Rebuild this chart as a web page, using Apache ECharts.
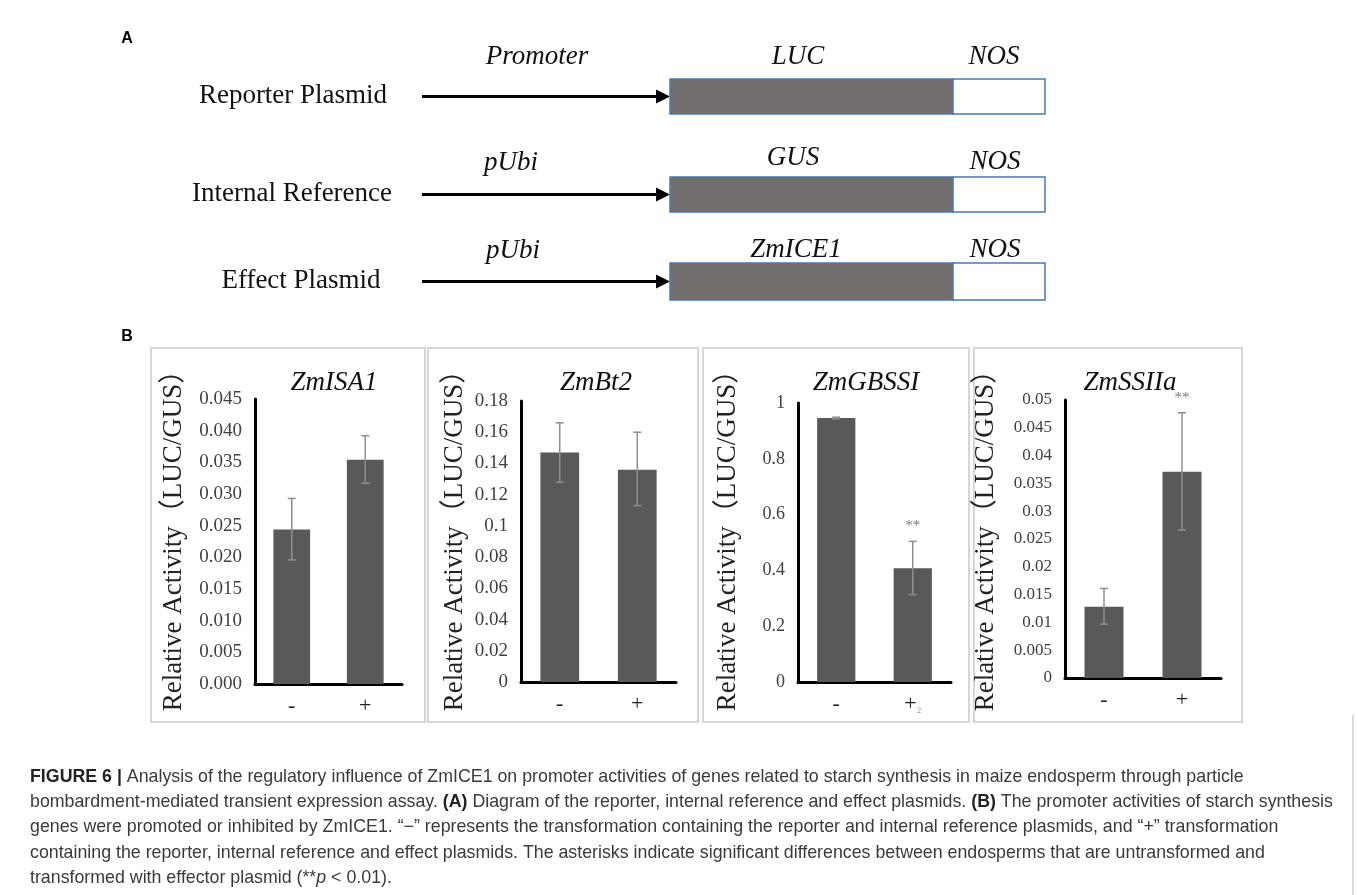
<!DOCTYPE html>
<html>
<head>
<meta charset="utf-8">
<script src="https://cdn.jsdelivr.net/npm/echarts@6/dist/echarts.min.js"></script>
<style>
  html, body { margin: 0; padding: 0; background: #ffffff; }
  #chart { width: 1358px; height: 895px; }
</style>
</head>
<body>
<div id="chart"></div>
<script>
// ---- construct diagram (panel A) ----
const constructNames = ['Reporter Plasmid', 'Internal Reference', 'Effect Plasmid'];
const promoterNames = ['Promoter', 'pUbi', 'pUbi'];
const geneNames = ['LUC', 'GUS', 'ZmICE1'];
const terminatorNames = ['NOS', 'NOS', 'NOS'];

// ---- relative activity (panel B) ----
const categories = ['-', '+'];

const isa1Mean = [0.0244, 0.0354];
const isa1Low  = [0.0196, 0.0317];
const isa1High = [0.0293, 0.0392];
const isa1Ticks = ['0.000', '0.005', '0.010', '0.015', '0.020', '0.025', '0.030', '0.035', '0.040', '0.045'];

const bt2Mean = [0.147, 0.136];
const bt2Low  = [0.128, 0.113];
const bt2High = [0.166, 0.160];
const bt2Ticks = ['0', '0.02', '0.04', '0.06', '0.08', '0.1', '0.12', '0.14', '0.16', '0.18'];

const gbssiMean = [0.946, 0.408];
const gbssiLow  = [0.943, 0.313];
const gbssiHigh = [0.949, 0.504];
const gbssiTicks = ['0', '0.2', '0.4', '0.6', '0.8', '1'];

const ssiiaMean = [0.0128, 0.0371];
const ssiiaLow  = [0.0097, 0.0266];
const ssiiaHigh = [0.0161, 0.0477];
const ssiiaTicks = ['0', '0.005', '0.01', '0.015', '0.02', '0.025', '0.03', '0.035', '0.04', '0.045', '0.05'];

const gbssiMarks = ['', '**'];
const ssiiaMarks = ['', '**'];

const yName = 'Relative Activity（LUC/GUS）';

const SERIF = "'Liberation Serif', 'Times New Roman', 'Noto Sans CJK SC', serif";
const SANS = "'Liberation Sans', Arial, Helvetica, sans-serif";

const panels = [
  { title: 'ZmISA1', mean: isa1Mean, low: isa1Low, high: isa1High, ticks: isa1Ticks, max: 0.045, step: 0.005, marks: null,
    grid: { left: 255, top: 399, width: 147, height: 285 }, box: [151, 348, 425, 722], nameX: 174, titleX: 334, tickSize: 19 },
  { title: 'ZmBt2', mean: bt2Mean, low: bt2Low, high: bt2High, ticks: bt2Ticks, max: 0.18, step: 0.02, marks: null,
    grid: { left: 521, top: 401, width: 155, height: 281 }, box: [428, 348, 698, 722], nameX: 455, titleX: 596, tickSize: 19 },
  { title: 'ZmGBSSI', mean: gbssiMean, low: gbssiLow, high: gbssiHigh, ticks: gbssiTicks, max: 1, step: 0.2, marks: gbssiMarks,
    grid: { left: 798, top: 403, width: 153, height: 279 }, box: [703, 348, 969, 722], nameX: 728, titleX: 866, tickSize: 18, plusSub: true },
  { title: 'ZmSSIIa', mean: ssiiaMean, low: ssiiaLow, high: ssiiaHigh, ticks: ssiiaTicks, max: 0.05, step: 0.005, marks: ssiiaMarks,
    grid: { left: 1065, top: 400, width: 156, height: 278 }, box: [974, 348, 1242, 722], nameX: 986, titleX: 1130, tickSize: 17 }
];

const grids = [], xAxes = [], yAxes = [], series = [], graphics = [];

panels.forEach((p, k) => {
  grids.push(Object.assign({ containLabel: false }, p.grid));
  xAxes.push({
    type: 'category', gridIndex: k, data: categories,
    axisLine: { lineStyle: { color: '#000', width: 3 } },
    axisTick: { show: false },
    axisLabel: {
      margin: 11, fontFamily: SERIF, fontSize: 22, color: '#222',
      formatter: p.plusSub ? (v) => (v === '+' ? '+{s|2}' : v) : (v) => v,
      rich: { s: { fontSize: 9, color: '#999', fontFamily: SERIF, verticalAlign: 'bottom', padding: [12, 0, 0, 0] } }
    }
  });
  yAxes.push({
    type: 'value', gridIndex: k, min: 0, max: p.max, interval: p.step,
    axisLine: { show: true, lineStyle: { color: '#000', width: 3 } },
    axisTick: { show: false },
    splitLine: { show: false },
    axisLabel: {
      margin: 13, fontFamily: SERIF, fontSize: p.tickSize, color: '#404040',
      formatter: (v, i) => p.ticks[i]
    }
  });
  series.push({
    type: 'bar', xAxisIndex: k, yAxisIndex: k, data: p.mean, barWidth: '50%',
    itemStyle: { color: '#595959' }, silent: true
  });
  series.push({
    type: 'custom', xAxisIndex: k, yAxisIndex: k, silent: true, z: 5,
    data: categories.map((c, i) => [i, p.low[i], p.high[i]]),
    renderItem: (params, api) => {
      const lo = api.coord([api.value(0), api.value(1)]);
      const hi = api.coord([api.value(0), api.value(2)]);
      const cap = 4;
      const st = { stroke: '#8f8f8f', lineWidth: 1.5 };
      return {
        type: 'group', children: [
          { type: 'line', shape: { x1: lo[0], y1: lo[1], x2: hi[0], y2: hi[1] }, style: st },
          { type: 'line', shape: { x1: hi[0] - cap, y1: hi[1], x2: hi[0] + cap, y2: hi[1] }, style: st },
          { type: 'line', shape: { x1: lo[0] - cap, y1: lo[1], x2: lo[0] + cap, y2: lo[1] }, style: st }
        ]
      };
    }
  });
  if (p.marks) {
    series.push({
      type: 'custom', xAxisIndex: k, yAxisIndex: k, silent: true, z: 6,
      data: categories.map((c, i) => [i, p.high[i], p.marks[i]]),
      renderItem: (params, api) => {
        const i = api.value(0);
        const pt = api.coord([i, api.value(1)]);
        return {
          type: 'text', x: pt[0], y: pt[1] - 15,
          style: { text: p.marks[i], fill: '#7a7a7a', font: '15px ' + SERIF, textAlign: 'center', textVerticalAlign: 'middle' }
        };
      }
    });
  }
  // panel frame
  graphics.push({
    type: 'rect', silent: true, z: -1,
    shape: { x: p.box[0], y: p.box[1], width: p.box[2] - p.box[0], height: p.box[3] - p.box[1] },
    style: { fill: 'none', stroke: '#d6d6d6', lineWidth: 2 }
  });
  // gene title
  graphics.push({
    type: 'text', x: p.titleX, y: 383, silent: true,
    style: { text: p.title, font: 'italic 27px ' + SERIF, fill: '#111', textAlign: 'center', textVerticalAlign: 'middle' }
  });
  // rotated y-axis name
  graphics.push({
    type: 'text', x: p.nameX, y: 534, rotation: Math.PI / 2, silent: true,
    style: { text: yName, font: '27px ' + SERIF, fill: '#222', textAlign: 'center', textVerticalAlign: 'middle' }
  });
});

// ---- panel A drawing ----
const rowBox = [[79, 114], [177, 212], [263, 300]];
const rowLabelX = [293, 292, 301];
const italicX = [[537, 798, 994], [511, 793, 995], [513, 796, 995]];
const italicY = [[57, 57, 57], [163, 158, 162], [251, 250, 250]];
const boxL = 670, boxSplit = 953, boxR = 1045, arrowL = 422;

graphics.push({ type: 'text', x: 127, y: 39, silent: true,
  style: { text: 'A', font: 'bold 16px ' + SANS, fill: '#000', textAlign: 'center', textVerticalAlign: 'middle' } });
graphics.push({ type: 'text', x: 127, y: 337, silent: true,
  style: { text: 'B', font: 'bold 16px ' + SANS, fill: '#000', textAlign: 'center', textVerticalAlign: 'middle' } });

constructNames.forEach((name, r) => {
  const y0 = rowBox[r][0], y1 = rowBox[r][1], yc = (y0 + y1) / 2;
  graphics.push({ type: 'text', x: rowLabelX[r], y: yc - 1, silent: true,
    style: { text: name, font: '27px ' + SERIF, fill: '#111', textAlign: 'center', textVerticalAlign: 'middle' } });
  graphics.push({ type: 'line', silent: true,
    shape: { x1: arrowL, y1: yc, x2: boxL - 12, y2: yc }, style: { stroke: '#000', lineWidth: 3 } });
  graphics.push({ type: 'polygon', silent: true,
    shape: { points: [[boxL - 14, yc - 7], [boxL, yc], [boxL - 14, yc + 7]] }, style: { fill: '#000' } });
  graphics.push({ type: 'rect', silent: true,
    shape: { x: boxL, y: y0, width: boxSplit - boxL, height: y1 - y0 }, style: { fill: '#736f6f', stroke: '#4a78b4', lineWidth: 1.5 } });
  graphics.push({ type: 'rect', silent: true,
    shape: { x: boxSplit, y: y0, width: boxR - boxSplit, height: y1 - y0 }, style: { fill: '#ffffff', stroke: '#4a78b4', lineWidth: 1.5 } });
  const labels = [promoterNames[r], geneNames[r], terminatorNames[r]];
  labels.forEach((t, c) => {
    graphics.push({ type: 'text', x: italicX[r][c], y: italicY[r][c], silent: true,
      style: { text: t, font: 'italic 27px ' + SERIF, fill: '#111', textAlign: 'center', textVerticalAlign: 'middle' } });
  });
});

// ---- figure legend ----
const captionLines = [
  '{b|FIGURE 6 |} Analysis of the regulatory influence of ZmICE1 on promoter activities of genes related to starch synthesis in maize endosperm through particle',
  'bombardment-mediated transient expression assay. {b|(A)} Diagram of the reporter, internal reference and effect plasmids. {b|(B)} The promoter activities of starch synthesis',
  'genes were promoted or inhibited by ZmICE1. “−” represents the transformation containing the reporter and internal reference plasmids, and “+” transformation',
  'containing the reporter, internal reference and effect plasmids. The asterisks indicate significant differences between endosperms that are untransformed and',
  'transformed with effector plasmid (**{i|p} < 0.01).'
];
const capFont = 17.8;
captionLines.forEach((line, i) => {
  graphics.push({ type: 'text', x: 30, y: 777 + i * 25.3, silent: true,
    style: {
      text: line, font: capFont + 'px ' + SANS, fill: '#3a3a3a', textAlign: 'left', textVerticalAlign: 'middle',
      rich: {
        b: { fontWeight: 'bold', fill: '#222', fontFamily: SANS, fontSize: capFont },
        i: { fontStyle: 'italic', fill: '#3a3a3a', fontFamily: SANS, fontSize: capFont }
      }
    } });
});
// right edge of the legend frame
graphics.push({ type: 'line', silent: true,
  shape: { x1: 1353, y1: 715, x2: 1353, y2: 895 }, style: { stroke: '#cfcfcf', lineWidth: 1.5 } });

const chart = echarts.init(document.getElementById('chart'), null, { renderer: 'canvas' });
chart.setOption({
  animation: false,
  backgroundColor: '#ffffff',
  grid: grids,
  xAxis: xAxes,
  yAxis: yAxes,
  series: series,
  graphic: graphics
});
</script>
</body>
</html>
